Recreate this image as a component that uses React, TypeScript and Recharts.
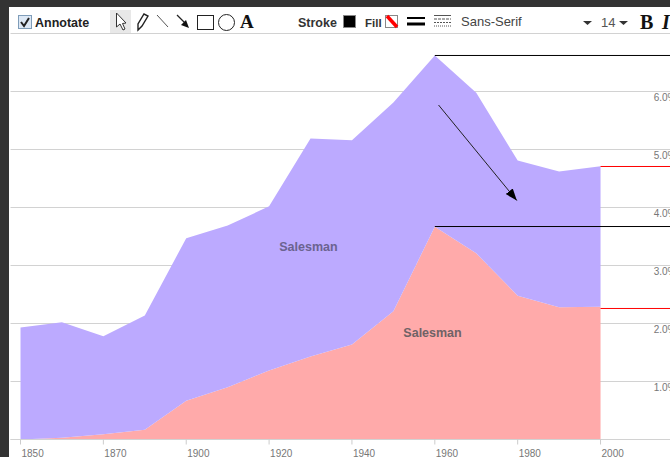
import { AreaChart, Area, XAxis, YAxis, CartesianGrid, ReferenceLine, ReferenceDot } from 'recharts';

// x axis has 15 slots, only some are labelled
const SLOT_YEARS = [1850, 1860, 1870, 1880, 1900, 1910, 1920, 1930, 1940, 1950, 1960, 1970, 1980, 1990, 2000];
const TICK_SLOTS = [0, 2, 4, 6, 8, 10, 12, 14];
const Y_TICKS = [0, 1, 2, 3, 4, 5, 6];

const LOWER_SERIES = [0, 0.03, 0.09, 0.17, 0.67, 0.9, 1.19, 1.43, 1.64, 2.21, 3.67, 3.21, 2.48, 2.28, 2.29];
const UPPER_SERIES = [1.93, 1.99, 1.69, 1.97, 2.8, 2.79, 2.83, 3.76, 3.52, 3.6, 2.95, 2.77, 2.33, 2.34, 2.42];

const tableData = SLOT_YEARS.map((year, i) => ({
  slot: i,
  year,
  lower: LOWER_SERIES[i],
  upper: UPPER_SERIES[i],
}));

const FONT = '"Liberation Sans", Arial, sans-serif';
const LAST_SLOT = 14;
const RIGHT_EDGE = 15.93;

const XTick = (props: any) => (
  <text x={props.x + 1} y={props.y + 10} fontSize={10} fontFamily={FONT} fill="#777" textAnchor="start">
    {SLOT_YEARS[props.payload.value]}
  </text>
);

const YTick = (props: any) =>
  props.payload.value === 0 ? null : (
    <text x={props.x - 2} y={props.y + 9} fontSize={10} fontFamily={FONT} fill="#777" textAnchor="end">
      {props.payload.value.toFixed(1)}%
    </text>
  );

const Toolbar = () => (
  <svg width={670} height={40} style={{ position: 'absolute', left: 0, top: 0 }} fontFamily={FONT}>
    {/* annotate checkbox */}
    <rect x={18.5} y={15.5} width={13} height={13} fill="#dde8f5" stroke="#7f9db9" />
    <path d="M21 22 L24 26 L29 18" fill="none" stroke="#222" strokeWidth={2} />
    <text x={35} y={27} fontSize={12.5} fontWeight="bold" fill="#222">Annotate</text>

    {/* drawing tools */}
    <rect x={110} y={10} width={21} height={23} fill="#e8e8e8" />
    <path d="M116.5 13 L116.5 27 L120 24 L123 30 L125 29 L122.5 23.5 L126 23 Z" fill="#fff" stroke="#333" />
    <path d="M138 30 L138 24 L144 14 L148 16 L142 26 Z" fill="#fff" stroke="#222" strokeWidth={1.4} />
    <line x1={157} y1={15} x2={168} y2={27} stroke="#555" />
    <line x1={177} y1={15} x2={186} y2={24} stroke="#222" strokeWidth={1.2} />
    <path d="M189 28 L181 25 L186 20 Z" fill="#111" />
    <rect x={197.5} y={15.5} width={16} height={14} fill="#fff" stroke="#222" />
    <circle cx={226.5} cy={22.5} r={8} fill="#fff" stroke="#222" />
    <text x={240} y={28} fontSize={19} fontWeight="bold" fontFamily='"Liberation Serif", serif' fill="#111">A</text>

    {/* stroke and fill */}
    <text x={298} y={27} fontSize={12.5} fontWeight="bold" fill="#333">Stroke</text>
    <rect x={343.5} y={15.5} width={12} height={12} fill="#000" stroke="#888" />
    <text x={365} y={27} fontSize={11.5} fontWeight="bold" fill="#333">Fill</text>
    <rect x={385.5} y={15.5} width={12} height={12} fill="#fff" stroke="#888" />
    <line x1={387} y1={16} x2={397} y2={27} stroke="#f00" strokeWidth={3.5} />
    <line x1={407} y1={18} x2={425} y2={18} stroke="#000" strokeWidth={2} />
    <line x1={407} y1={24} x2={425} y2={24} stroke="#000" strokeWidth={3} />
    <line x1={434} y1={15.5} x2={451} y2={15.5} stroke="#555" />
    <line x1={434} y1={19} x2={451} y2={19} stroke="#555" strokeDasharray="3 1" />
    <line x1={434} y1={22.5} x2={451} y2={22.5} stroke="#555" strokeDasharray="2 1" />
    <line x1={434} y1={26} x2={451} y2={26} stroke="#555" strokeDasharray="1 1" />

    {/* font controls */}
    <text x={461} y={26} fontSize={13} fill="#444">Sans-Serif</text>
    <path d="M583 21 L592 21 L587.5 25 Z" fill="#333" />
    <text x={601} y={27} fontSize={13} fill="#555">14</text>
    <path d="M619 21 L628 21 L623.5 25 Z" fill="#333" />
    <text x={640} y={29} fontSize={20} fontWeight="bold" fontFamily='"Liberation Serif", serif' fill="#111">B</text>
    <text x={662} y={29} fontSize={20} fontWeight="bold" fontStyle="italic" fontFamily='"Liberation Serif", serif' fill="#111">I</text>
  </svg>
);

export default function App() {
  return (
    <div style={{ position: 'fixed', left: 0, top: 0, width: 670, height: 457, overflow: 'hidden', background: '#fff' }}>
      <AreaChart
        width={690}
        height={457}
        data={tableData}
        margin={{ top: 33.5, right: 9.5, left: 10.5, bottom: 0 }}
        style={{ position: 'absolute', left: 0, top: 0 }}
      >
        <defs>
          <marker id="arrowHead" markerUnits="userSpaceOnUse" markerWidth={13} markerHeight={10} refX={12} refY={4.5} orient="auto">
            <path d="M0 0 L12 4.5 L0 9 Z" fill="#000" />
          </marker>
        </defs>
        <CartesianGrid horizontal vertical={false} stroke="#d2d2d2" />
        <XAxis
          dataKey="slot"
          type="number"
          domain={[-0.2415, RIGHT_EDGE]}
          ticks={TICK_SLOTS}
          tick={XTick}
          tickLine={{ stroke: '#ccc' }}
          axisLine={{ stroke: '#d2d2d2' }}
          tickSize={5}
          height={17.5}
          interval={0}
          allowDataOverflow
        />
        <YAxis
          orientation="right"
          mirror
          type="number"
          domain={[0, 7]}
          ticks={Y_TICKS}
          tick={YTick}
          axisLine={false}
          tickLine={false}
          tickSize={0}
          width={10}
          interval={0}
        />
        <Area dataKey="lower" stackId="a" type="linear" fill="#ffaaaa" fillOpacity={1} stroke="none" isAnimationActive={false} />
        <Area dataKey="upper" stackId="a" type="linear" fill="#bcaaff" fillOpacity={1} stroke="none" isAnimationActive={false} />

        <ReferenceDot
          x={6.95}
          y={3.32}
          r={0}
          stroke="none"
          ifOverflow="visible"
          label={{ value: 'Salesman', position: 'center', fontSize: 12.5, fontWeight: 'bold', fontFamily: FONT, fill: '#6b6390' }}
        />
        <ReferenceDot
          x={9.945}
          y={1.84}
          r={0}
          stroke="none"
          ifOverflow="visible"
          label={{ value: 'Salesman', position: 'center', fontSize: 12.5, fontWeight: 'bold', fontFamily: FONT, fill: '#6f6266' }}
        />

        <ReferenceLine segment={[{ x: 10, y: 6.621 }, { x: RIGHT_EDGE, y: 6.621 }]} stroke="#000" ifOverflow="visible" />
        <ReferenceLine segment={[{ x: 10, y: 3.672 }, { x: RIGHT_EDGE, y: 3.672 }]} stroke="#000" ifOverflow="visible" />
        <ReferenceLine segment={[{ x: LAST_SLOT, y: 4.707 }, { x: RIGHT_EDGE, y: 4.707 }]} stroke="#f00" ifOverflow="visible" />
        <ReferenceLine segment={[{ x: LAST_SLOT, y: 2.259 }, { x: RIGHT_EDGE, y: 2.259 }]} stroke="#f00" ifOverflow="visible" />
        <ReferenceLine
          segment={[{ x: 10.09, y: 5.767 }, { x: 11.98, y: 4.12 }]}
          stroke="#222"
          ifOverflow="visible"
          markerEnd="url(#arrowHead)"
        />
      </AreaChart>
      <Toolbar />
      <div style={{ position: 'absolute', left: 0, top: 0, width: 670, height: 7, background: '#333' }} />
      <div style={{ position: 'absolute', left: 0, top: 0, width: 9, height: 457, background: '#333' }} />
    </div>
  );
}
